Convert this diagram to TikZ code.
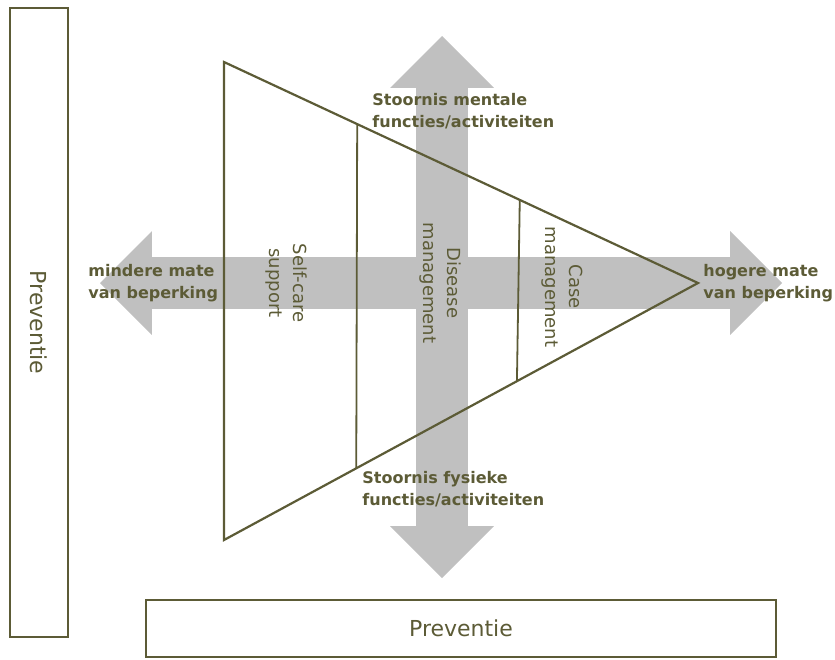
\documentclass[tikz,border=0pt]{standalone}
\usepackage{fontspec}
\setmainfont{DejaVu Sans}
\usepackage{tikz}
\usetikzlibrary{shapes.arrows,calc}
\definecolor{lijn}{HTML}{5C5B36}
\definecolor{pijl}{HTML}{C0C0C0}

\begin{document}
\begin{tikzpicture}[x=1pt,y=-1pt,thick,
  arrow node/.style={double arrow,fill=pijl,draw=none,inner xsep=0pt,inner ysep=25.5pt,
        minimum width=103pt,double arrow head extend=26pt},
  box node/.style={draw=lijn,line width=2.4pt,fill=white,inner sep=0pt,
        text=lijn,font=\fontsize{22}{24}\selectfont},
  care node/.style={rotate=-90,align=center,inner sep=0pt,text=lijn,
        font=\fontsize{18}{24}\selectfont},
  axis node/.style={anchor=west,align=left,inner sep=0pt,text=lijn,
        font=\bfseries\fontsize{16}{22}\selectfont}]
  \useasboundingbox (0,0) rectangle (835,659);

  % grote pijlen
  \node[arrow node,minimum height=682pt] (horiz) at (441,283) {};
  \node[arrow node,minimum height=542pt,rotate=90] (vert) at (442,307) {};

  % preventie
  \node[box node,rotate=-90,minimum width=629pt,minimum height=58pt] (prevL) at (39,322.5) {Preventie};
  \node[box node,minimum width=630pt,minimum height=57pt] (prevB) at (461,628.5) {Preventie};

  % driehoek
  \coordinate (top) at (224,62);
  \coordinate (bottom) at (224,540);
  \coordinate (tip) at (698,283);
  \draw[lijn,line width=2.2pt] (top) -- (tip) -- (bottom) -- cycle;
  \draw[lijn,line width=1.8pt] ($(top)!0.281!(tip)$) -- ($(bottom)!0.279!(tip)$);
  \draw[lijn,line width=1.8pt] ($(top)!0.624!(tip)$) -- ($(bottom)!0.618!(tip)$);

  \node[care node] (zelf) at (286,283) {Self-care\\support};
  \node[care node] (ziekte) at (440,283) {Disease\\management};
  \node[care node] (casus) at (562,287) {Case\\management};

  \node[axis node] (mentaal) at (372,111) {Stoornis mentale\\functies/activiteiten};
  \node[axis node] (fysiek) at (362,489) {Stoornis fysieke\\functies/activiteiten};
  \node[axis node] (minder) at (88,283) {mindere mate\\van beperking};
  \node[axis node] (hoger) at (703,283) {hogere mate\\van beperking};
\end{tikzpicture}
\end{document}
